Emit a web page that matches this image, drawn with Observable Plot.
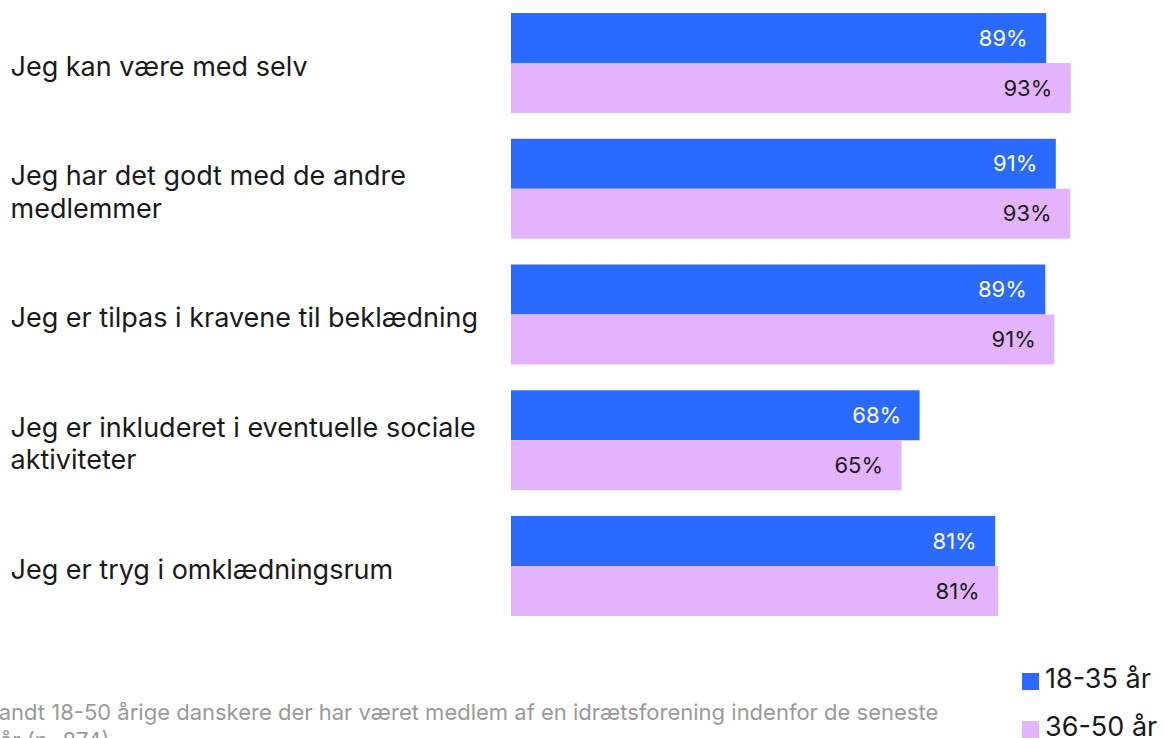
<!DOCTYPE html>
<html>
<head>
<meta charset="utf-8">
<script src="https://cdn.jsdelivr.net/npm/d3@7"></script>
<script src="https://cdn.jsdelivr.net/npm/@observablehq/plot@0.6"></script>
<style>
  html, body { margin: 0; padding: 0; background: #fff; overflow: hidden; }
  body { width: 1165px; height: 738px; position: relative; font-family: Inter, "DejaVu Sans", sans-serif; }
  #chart svg { display: block; }
  #below { position: relative; height: 88px; }
  #legend { position: absolute; left: 1022px; top: -6px; font-size: 27px; color: #1a1a1a; }
  #legend .item { display: flex; align-items: flex-end; height: 48px; line-height: 1; }
  #legend .sw { width: 17px; height: 17px; margin-right: 6px; margin-bottom: 2px; flex: none; }
  #caption { position: absolute; left: -21px; top: 48px; width: 1100px; font-size: 22px; line-height: 28px; color: #9a9a9a; white-space: nowrap; }
</style>
</head>
<body>
<div id="chart"></div>
<div id="below"><div id="caption"></div><div id="legend"></div></div>
<script>
const categories = [
  "Jeg kan være med selv",
  "Jeg har det godt med de andre\nmedlemmer",
  "Jeg er tilpas i kravene til beklædning",
  "Jeg er inkluderet i eventuelle sociale\naktiviteter",
  "Jeg er tryg i omklædningsrum"
];
const series = ["18-35 år", "36-50 år"];
const values1835 = [89.2, 90.8, 89.05, 68.1, 80.7];
const values3650 = [93.3, 93.2, 90.55, 65.1, 81.2];
const colors = ["#2b6aff", "#e3b4fc"];
const captionLines = [
  "Blandt 18-50 årige danskere der har været medlem af en idrætsforening indenfor de seneste",
  "år (n=874)"
];

const data = [];
categories.forEach((c, i) => {
  data.push({cat: c, series: series[0], value: values1835[i]});
  data.push({cat: c, series: series[1], value: values3650[i]});
});

const chart = Plot.plot({
  width: 1165,
  height: 650,
  marginLeft: 511,
  marginRight: 54,
  marginTop: 13,
  marginBottom: 34,
  style: {fontFamily: "Inter, 'DejaVu Sans', sans-serif", background: "#fff"},
  x: {domain: [0, 100], axis: null},
  y: {domain: series, axis: null, padding: 0, round: false},
  fy: {domain: categories, axis: null, paddingInner: 0.205, paddingOuter: 0, round: false, label: null},
  color: {domain: series, range: colors},
  marks: [
    Plot.barX(data, {fy: "cat", y: "series", x: "value", fill: "series", inset: 0}),
    Plot.text(data, {
      fy: "cat", y: "series", x: "value",
      text: d => `${Math.round(d.value)}%`,
      textAnchor: "end", dx: -19,
      fontSize: 22,
      fill: d => d.series === series[0] ? "#ffffff" : "#1a1a1a"
    }),
    Plot.text(categories, {
      fy: d => d,
      text: d => d,
      frameAnchor: "left",
      textAnchor: "start",
      dx: -501,
      dy: 2,
      fontSize: 27,
      lineHeight: 1.19,
      fill: "#1a1a1a"
    })
  ]
});
document.getElementById("chart").appendChild(chart);

const colorScale = chart.scale("color");
const legend = document.getElementById("legend");
colorScale.domain.forEach((s, i) => {
  const item = document.createElement("div");
  item.className = "item";
  const sw = document.createElement("div");
  sw.className = "sw";
  sw.style.background = colorScale.range[i];
  const lab = document.createElement("span");
  lab.textContent = s;
  item.appendChild(sw);
  item.appendChild(lab);
  legend.appendChild(item);
});

const cap = document.getElementById("caption");
cap.innerHTML = captionLines.map((l, i) => i === 0 ? `<div>${l}</div>` : `<div style="padding-left:21px">${l}</div>`).join("");
</script>
</body>
</html>
